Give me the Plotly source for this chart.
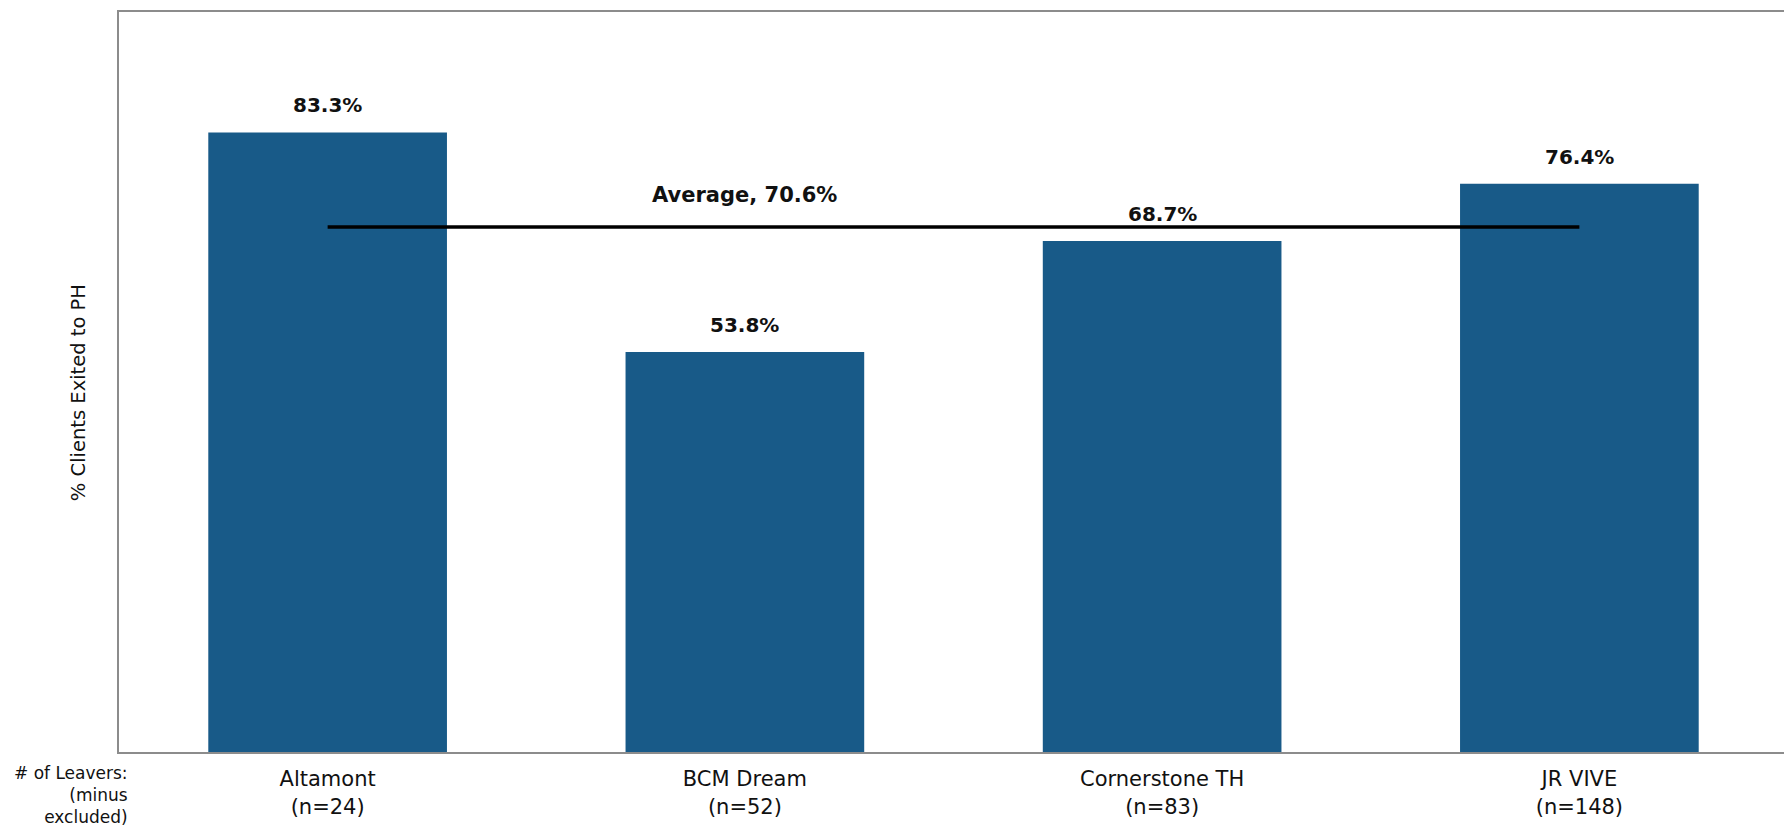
import plotly.graph_objects as go

programs = ["Altamont", "BCM Dream", "Cornerstone TH", "JR VIVE"]
n_leavers = [24, 52, 83, 148]
pct_exited_ph = [83.3, 53.8, 68.7, 76.4]
average_pct = 70.6

FONT = "DejaVu Sans"
BAR_COLOR = "#185A88"
TXT = "#111111"

tick_text = [f"{p}<br>(n={n})" for p, n in zip(programs, n_leavers)]

fig = go.Figure()
fig.add_trace(go.Bar(
    x=programs, y=pct_exited_ph,
    marker=dict(color=BAR_COLOR, line=dict(width=0)),
    width=0.572,
    showlegend=False,
))
fig.add_trace(go.Scatter(
    x=[programs[0], programs[-1]], y=[average_pct, average_pct],
    mode="lines", line=dict(color="black", width=3.5),
    showlegend=False, hoverinfo="skip",
))
for p, v in zip(programs, pct_exited_ph):
    fig.add_annotation(
        x=p, y=v, xref="x", yref="y",
        text=f"<b>{v:.1f}%</b>", showarrow=False,
        yanchor="middle", yshift=27,
        font=dict(family=FONT, size=20, color=TXT),
    )
fig.add_annotation(
    x=programs[1], y=average_pct, xref="x", yref="y",
    text=f"<b>Average, {average_pct:.1f}%</b>",
    showarrow=False, yanchor="middle", yshift=32,
    font=dict(family=FONT, size=21, color=TXT),
)
fig.add_annotation(
    x=0.0065, y=-0.012, xref="paper", yref="paper",
    xanchor="right", yanchor="top", align="right",
    text="# of Leavers:<br>(minus<br>excluded)",
    showarrow=False,
    font=dict(family=FONT, size=17, color=TXT),
)
fig.add_annotation(
    x=-0.0245, y=0.485, xref="paper", yref="paper",
    xanchor="center", yanchor="middle", textangle=-90,
    text="% Clients Exited to PH", showarrow=False,
    font=dict(family=FONT, size=19.5, color=TXT),
)

fig.update_layout(
    width=1784, height=821,
    margin=dict(l=111, r=2, t=2, b=77),
    paper_bgcolor="white", plot_bgcolor="white",
    bargap=0.428,
    font=dict(family=FONT, color=TXT),
    xaxis=dict(
        tickmode="array", tickvals=programs, ticktext=tick_text,
        tickfont=dict(family=FONT, size=21, color=TXT),
        showline=True, linecolor="#8c8c8c", linewidth=2, mirror=True,
        ticks="", showgrid=False, ticklabelstandoff=7,
    ),
    yaxis=dict(
        range=[0, 99.5], showticklabels=False, showgrid=False, zeroline=False,
        showline=True, linecolor="#8c8c8c", linewidth=2, mirror=True,
        ticks="",
    ),
)

fig.write_html("out.html")
